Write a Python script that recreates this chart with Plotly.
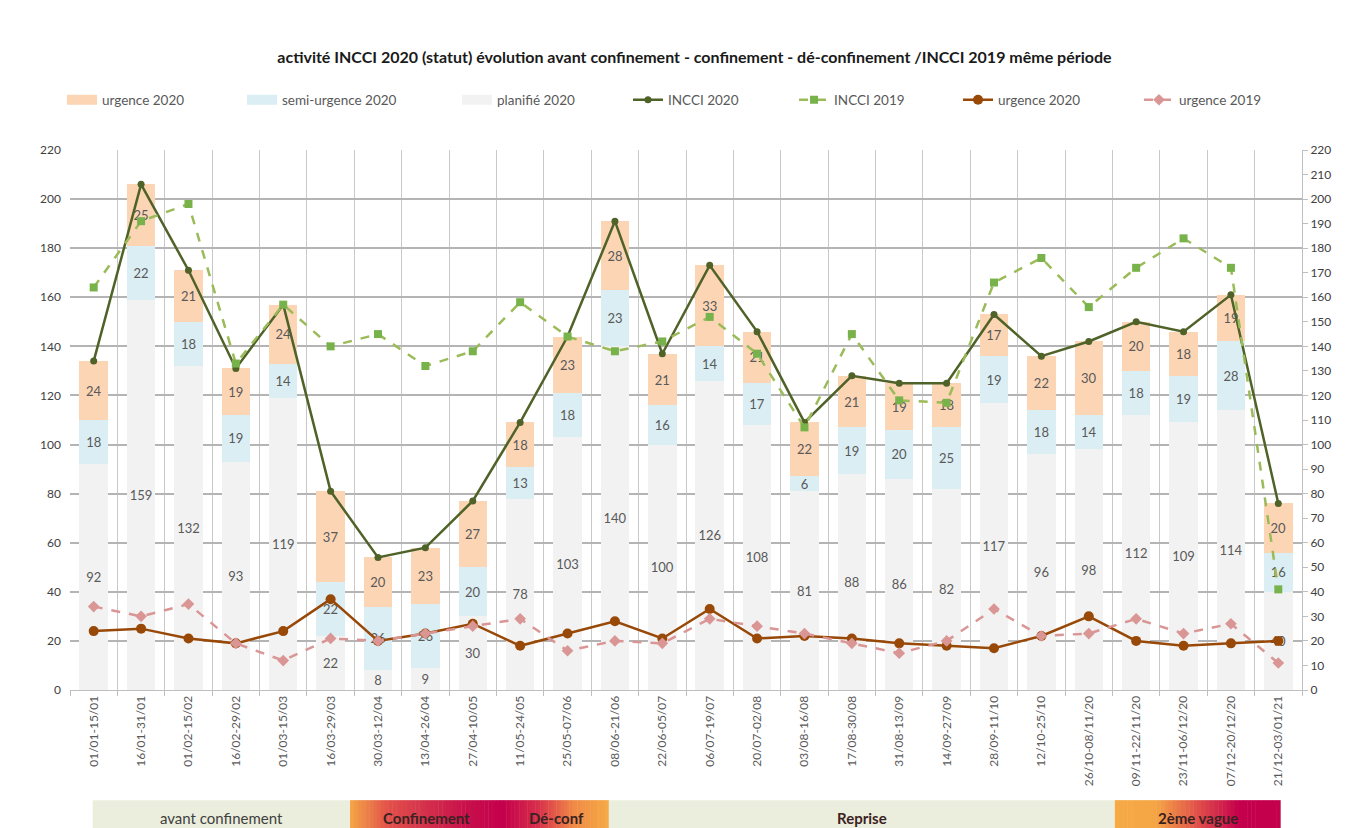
import plotly.graph_objects as go

# ---- data ----
periods = [
    "01/01-15/01", "16/01-31/01", "01/02-15/02", "16/02-29/02", "01/03-15/03",
    "16/03-29/03", "30/03-12/04", "13/04-26/04", "27/04-10/05", "11/05-24/05",
    "25/05-07/06", "08/06-21/06", "22/06-05/07", "06/07-19/07", "20/07-02/08",
    "03/08-16/08", "17/08-30/08", "31/08-13/09", "14/09-27/09", "28/09-11/10",
    "12/10-25/10", "26/10-08/11/20", "09/11-22/11/20", "23/11-06/12/20",
    "07/12-20/12/20", "21/12-03/01/21",
]
planifie_2020 = [92, 159, 132, 93, 119, 22, 8, 9, 30, 78, 103, 140, 100, 126, 108,
                 81, 88, 86, 82, 117, 96, 98, 112, 109, 114, 40]
semi_urgence_2020 = [18, 22, 18, 19, 14, 22, 26, 26, 20, 13, 18, 23, 16, 14, 17,
                     6, 19, 20, 25, 19, 18, 14, 18, 19, 28, 16]
urgence_2020 = [24, 25, 21, 19, 24, 37, 20, 23, 27, 18, 23, 28, 21, 33, 21,
                22, 21, 19, 18, 17, 22, 30, 20, 18, 19, 20]
incci_2019 = [164, 191, 198, 133, 157, 140, 145, 132, 138, 158, 144, 138, 142, 152, 137,
              107, 145, 118, 117, 166, 176, 156, 172, 184, 172, 41]
urgence_2019 = [34, 30, 35, 19, 12, 21, 20, 23, 26, 29, 16, 20, 19, 29, 26,
                23, 19, 15, 20, 33, 22, 23, 29, 23, 27, 11]
incci_2020 = [p + s + u for p, s, u in zip(planifie_2020, semi_urgence_2020, urgence_2020)]

# period bands under the axis: label, start, end (category index units), colour stops, bold
phases = [
    ("avant confinement", -0.02, 5.41, ["#ebeedc"], False),
    ("Confinement", 5.41, 8.65, ["#f4a646", "#e2504a", "#d3304b", "#c8104c", "#c4004c"], True),
    ("Dé-conf", 8.65, 10.87, ["#c4004c", "#d8304b", "#f08a46", "#f5aa45"], True),
    ("Reprise", 10.87, 21.55, ["#ebeedc"], True),
    ("2ème vague", 21.55, 25.04, ["#f5aa45", "#f5a545", "#e0504a", "#c4004c", "#c4004c"], True),
]

FONT = "Lato, 'Open Sans', sans-serif"
GREY_TXT = "#595959"
# legend slots (paper x) — the reference spaces its legend entries unevenly
LEGEND_X = [-0.0065, 0.1396, 0.3141, 0.4529, 0.5877, 0.7208, 0.8677]


def _hex(c):
    c = c.lstrip("#")
    return [int(c[i:i + 2], 16) for i in (0, 2, 4)]


def _mix(stops, t):
    if len(stops) == 1:
        return stops[0]
    pos = t * (len(stops) - 1)
    i = min(int(pos), len(stops) - 2)
    f = pos - i
    a, b = _hex(stops[i]), _hex(stops[i + 1])
    return "#%02x%02x%02x" % tuple(round(a[k] + (b[k] - a[k]) * f) for k in range(3))


def _leg(i):
    return "legend" if i == 0 else f"legend{i + 1}"


fig = go.Figure()

bar_text = dict(color=GREY_TXT, size=13, family=FONT)
bars = [
    ("planifié 2020", planifie_2020, "#f2f2f2", 2),
    ("semi-urgence 2020", semi_urgence_2020, "#dbeef4", 1),
    ("urgence 2020", urgence_2020, "#fcd5b5", 0),
]
for name, vals, col, slot in bars:
    fig.add_trace(go.Bar(
        x=periods, y=vals, name=name, marker=dict(color=col, line=dict(width=0)),
        text=vals, textposition="inside", insidetextanchor="middle", textangle=0,
        textfont=bar_text, constraintext="none", showlegend=False,
    ))
# wide flat swatches for the bar series, as in the reference legend
for name, vals, col, slot in bars:
    fig.add_trace(go.Scatter(
        x=[None], y=[None], name=name, mode="lines", line=dict(color=col, width=10),
        legend=_leg(slot),
    ))

fig.add_trace(go.Scatter(
    x=periods, y=incci_2020, name="INCCI 2020", mode="lines+markers",
    line=dict(color="#4f6228", width=2.5), marker=dict(symbol="circle", size=7, color="#4f6228"),
    legend=_leg(3),
))
fig.add_trace(go.Scatter(
    x=periods, y=incci_2019, name="INCCI 2019", mode="lines+markers", yaxis="y2",
    line=dict(color="#9bbb59", width=2.5, dash="dash"),
    marker=dict(symbol="square", size=8, color="#77b24a"),
    legend=_leg(4),
))
fig.add_trace(go.Scatter(
    x=periods, y=urgence_2020, name="urgence 2020", mode="lines+markers",
    line=dict(color="#984807", width=2.5), marker=dict(symbol="circle", size=10, color="#984807"),
    legend=_leg(5),
))
fig.add_trace(go.Scatter(
    x=periods, y=urgence_2019, name="urgence 2019", mode="lines+markers", yaxis="y2",
    line=dict(color="#d99694", width=2.5, dash="dash"),
    marker=dict(symbol="diamond", size=9, color="#d99694"),
    legend=_leg(6),
))

# bottom phase bands (gradients approximated by thin slices)
shapes = []
annotations = []
for label, x0, x1, stops, bold in phases:
    n = 1 if len(stops) == 1 else 40
    w = (x1 - x0) / n
    for k in range(n):
        shapes.append(dict(
            type="rect", xref="x", yref="paper", x0=x0 + k * w, x1=x0 + (k + 1) * w + (0.01 if n > 1 else 0),
            y0=-0.3, y1=-0.204, fillcolor=_mix(stops, (k + 0.5) / n), line=dict(width=0), layer="above",
        ))
    annotations.append(dict(
        x=(x0 + x1) / 2, y=-0.237, xref="x", yref="paper", showarrow=False,
        text=f"<b>{label}</b>" if bold else label,
        font=dict(size=15, family=FONT, color="#3b2222" if label != "avant confinement" else "#404040"),
        yanchor="middle",
    ))

legends = {}
for i, lx in enumerate(LEGEND_X):
    legends[_leg(i)] = dict(
        orientation="h", x=lx, xanchor="left", y=1.0926, yanchor="middle",
        itemwidth=30, font=dict(size=13.5, family=FONT, color=GREY_TXT), bgcolor="rgba(0,0,0,0)",
    )

# the page adds an 8px body margin, so everything is laid out 8px up/left
fig.update_layout(
    width=1346, height=828,
    margin=dict(l=62, r=52, t=142, b=146, autoexpand=False),
    paper_bgcolor="white", plot_bgcolor="white",
    barmode="stack", bargap=0.4,
    font=dict(family=FONT, size=12, color="#404040"),
    title=dict(
        text="<b>activité INCCI 2020 (statut) évolution avant confinement - confinement - dé-confinement /INCCI 2019 même période</b>",
        x=0.51, xanchor="center", y=0.9408, yanchor="middle",
        font=dict(size=16, family=FONT, color="#1a1a1a"),
    ),
    xaxis=dict(
        type="category", tickson="boundaries", showgrid=True, gridcolor="#c8c8c8", gridwidth=1.2,
        ticks="outside", ticklen=5, tickcolor="#bfbfbf", tickangle=-90,
        tickfont=dict(size=12, family=FONT, color=GREY_TXT), showline=True, linecolor="#bfbfbf",
        range=[-0.5, len(periods) - 0.5],
    ),
    yaxis=dict(
        range=[0, 220], dtick=20, showgrid=True, gridcolor="#b4b4b4", gridwidth=1.5,
        zeroline=False, tickfont=dict(size=12, family=FONT, color="#404040"), ticks="",
        ticklabelstandoff=8,
    ),
    yaxis2=dict(
        range=[0, 220], dtick=10, overlaying="y", side="right", showgrid=False, zeroline=False,
        showline=True, linecolor="#bfbfbf", ticks="outside", ticklen=5, tickcolor="#bfbfbf",
        tickfont=dict(size=12, family=FONT, color="#404040"),
    ),
    uniformtext=dict(minsize=11, mode="show"),
    shapes=shapes,
    annotations=annotations,
    **legends,
)

fig.write_html("out.html")
